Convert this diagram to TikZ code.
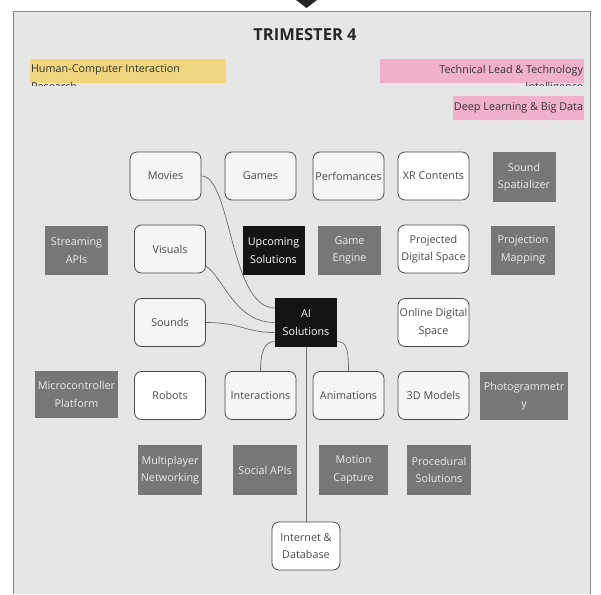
\documentclass[tikz,border=0pt]{standalone}
\usepackage{fontspec}
\setmainfont{Open Sans}
\definecolor{panelgray}{HTML}{E6E6E6}
\definecolor{paneledge}{HTML}{8A8A8A}
\definecolor{boxedge}{HTML}{4A4A4A}
\definecolor{boxtext}{HTML}{4A4A4A}
\definecolor{toolfill}{HTML}{777777}
\definecolor{hciyellow}{HTML}{F1D67F}
\definecolor{leadpink}{HTML}{F1B1CD}
\definecolor{linkgray}{HTML}{6A6A6A}

\begin{document}
\begin{tikzpicture}[x=1pt, y=-1pt,
    lbl/.style={font=\fontsize{10.8}{17.5}\selectfont},
    soft/.style={rectangle, draw=boxedge, line width=0.8pt, rounded corners=7pt, fill=#1,
                 minimum width=71pt, minimum height=48pt, inner sep=1pt, align=center,
                 lbl, text=boxtext},
    soft/.default=black!4,
    tool/.style={rectangle, fill=toolfill, minimum width=63pt, minimum height=49pt,
                 inner sep=1pt, align=center, lbl, text=white!92!black},
    solution/.style={rectangle, fill=black!92, minimum width=62pt, minimum height=49pt,
                 inner sep=1pt, align=center, lbl, text=white},
    bar/.style={rectangle, fill=#1, minimum height=24pt, inner sep=0pt},
    link/.style={draw=linkgray, line width=0.7pt}
]
\useasboundingbox (0,0) rectangle (601,594);
\fill[panelgray] (13,12) rectangle (590,594);
\draw[paneledge, line width=1pt] (13,594) -- (13,12) -- (590,12) -- (590,594);
\fill[black!85] (296,0) -- (317,0) -- (306.5,8) -- cycle;

\node[font=\bfseries\fontsize{16.5}{19}\selectfont, text=black!85] (title) at (305,35) {TRIMESTER 4};

\node[bar=hciyellow, minimum width=196pt] (hci) at (128,71) {};
\node[bar=leadpink, minimum width=204pt] (lead) at (482,71) {};
\node[bar=leadpink, minimum width=131pt, lbl, text=black!80] (deep) at (518.5,108) {Deep Learning \& Big Data};
\begin{scope}
  \clip (hci.north west) rectangle ([yshift=-2pt]hci.south east);
  \node[lbl, anchor=north west, align=left, inner sep=0pt, text=black!80] (hcitext)
    at ([xshift=1pt, yshift=-6pt]hci.north west) {Human-Computer Interaction\\Research};
\end{scope}
\begin{scope}
  \clip (lead.north west) rectangle ([yshift=-2pt]lead.south east);
  \node[lbl, anchor=north east, align=right, inner sep=0pt, text=black!80] (leadtext)
    at ([xshift=-1pt, yshift=-6pt]lead.north east) {Technical Lead \& Technology\\Intelligence};
\end{scope}

\node[soft] (movies) at (165.5,176) {Movies};
\node[soft] (games) at (260.5,176) {Games};
\node[soft] (perf) at (348.5,176) {Perfomances};
\node[soft=white] (xr) at (433.5,176) {XR Contents};
\node[tool, minimum height=50pt] (spatial) at (524,177) {Sound\\Spatializer};

\node[tool] (stream) at (76.5,250.5) {Streaming\\APIs};
\node[soft] (visuals) at (170,249) {Visuals};
\node[solution] (upcoming) at (273.5,250.5) {Upcoming\\Solutions};
\node[tool] (engine) at (349.5,250.5) {Game\\Engine};
\node[soft=white] (projected) at (433.5,249) {Projected\\Digital Space};
\node[tool, minimum width=64pt] (mapping) at (523,250) {Projection\\Mapping};

\node[soft] (sounds) at (170,322.5) {Sounds};
\node[solution] (ai) at (306,322.5) {AI\\Solutions};
\node[soft=white] (online) at (433.5,322.5) {Online Digital\\Space};

\node[tool, minimum width=83pt, minimum height=47pt] (micro) at (76.5,394.5) {Microcontroller\\Platform};
\node[soft=white] (robots) at (170,395.5) {Robots};
\node[soft] (interact) at (260.5,395.5) {Interactions};
\node[soft] (anim) at (348.5,395.5) {Animations};
\node[soft] (models) at (433.5,395.5) {3D Models};
\node[tool, minimum width=88pt, minimum height=48pt] (photo) at (524,396) {Photogrammetr\\y};

\node[tool, minimum width=64pt, minimum height=50pt] (multi) at (170,470) {Multiplayer\\Networking};
\node[tool, minimum width=64pt, minimum height=50pt] (social) at (265,470) {Social APIs};
\node[tool, minimum width=69pt, minimum height=50pt] (mocap) at (353.5,470) {Motion\\Capture};
\node[tool, minimum width=64pt, minimum height=50pt] (procedural) at (439,470) {Procedural\\Solutions};

\node[soft=white, minimum width=68pt] (internet) at (306,546) {Internet \&\\Database};

\draw[link] (movies.east) .. controls +(30,0) and +(-45,0) .. ([yshift=14.5pt]ai.west);
\draw[link] ([yshift=-17pt]visuals.east) .. controls +(18,12) and +(-40,0) .. (ai.west);
\draw[link] (sounds.east) .. controls +(35,0) and +(-30,0) .. ([yshift=-10pt]ai.west);
\draw[link] (interact.north) .. controls +(0,-20) and +(-10,0) .. ([yshift=-19pt]ai.west);
\draw[link] ([yshift=-19pt]ai.east) .. controls +(10,0) and +(0,-20) .. (anim.north);
\draw[link] (ai.south) -- (internet.north);
\end{tikzpicture}
\end{document}
